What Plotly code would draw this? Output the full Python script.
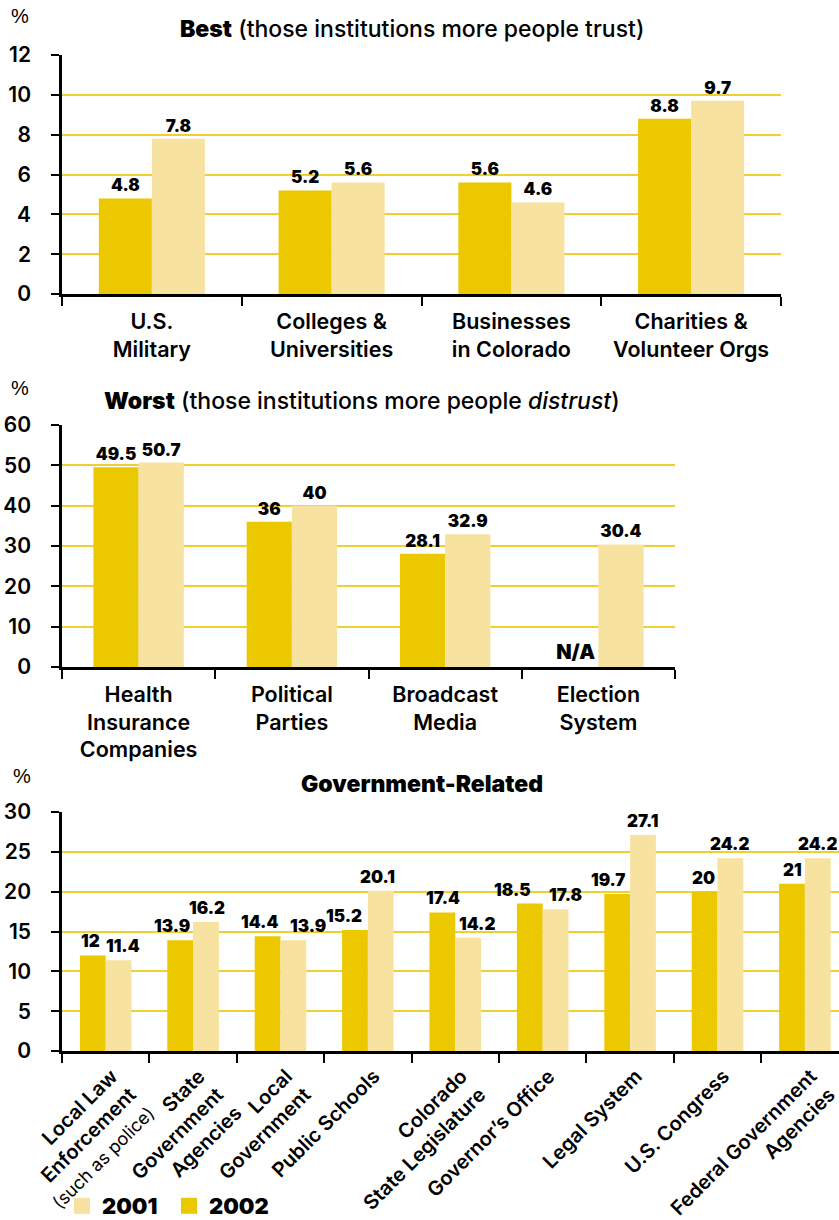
import plotly.graph_objects as go

# ---------------- data ----------------
best_cats = ["U.S.<br>Military", "Colleges &<br>Universities",
             "Businesses<br>in Colorado", "Charities &<br>Volunteer Orgs"]
best_2002 = [4.8, 5.2, 5.6, 8.8]
best_2001 = [7.8, 5.6, 4.6, 9.7]

worst_cats = ["Health<br>Insurance<br>Companies", "Political<br>Parties",
              "Broadcast<br>Media", "Election<br>System"]
worst_2002 = [49.5, 36, 28.1, None]   # None = N/A
worst_2001 = [50.7, 40, 32.9, 30.4]

gov_cats = ["Local Law<br>Enforcement<br><span style='font-weight:normal;font-size:18px'>(such as police)</span>",
            "State<br>Government<br>Agencies",
            "Local<br>Government",
            "Public Schools",
            "Colorado<br>State Legislature",
            "Governor’s Office",
            "Legal System",
            "U.S. Congress",
            "Federal Government<br>Agencies"]
gov_2002 = [12, 13.9, 14.4, 15.2, 17.4, 18.5, 19.7, 20, 21]
gov_2001 = [11.4, 16.2, 13.9, 20.1, 14.2, 17.8, 27.1, 24.2, 24.2]

years = ["2001", "2002"]

# label nudges (px) used in the original to keep value labels apart
gov_nudge_2002 = [-2, -8, -8, -11, 1, -17, -9, -1, 0]
gov_nudge_2001 = [4, 1, 15, -3, 9, 10, -1, -1, 0]

# ---------------- style ----------------
W, H = 839, 1220
DARK = "#ECC800"
LIGHT = "#F7E2A0"
GRID = "#F0D030"
BASE = "Liberation Sans, Arial, sans-serif"
MED = "Inter, Liberation Sans, Arial, sans-serif"
HEAVY = "Inter, Liberation Sans, Arial, sans-serif"
BARGAP = 0.41
VAL_SIZE = 17


def px_x(p):
    return p / W


def px_y(p):
    return 1 - p / H


def fmt(v):
    return f"{v:g}"


fig = go.Figure()

val_font = dict(family=HEAVY, size=VAL_SIZE, color="black", weight=900)

# Best / Worst panels: labels drawn by the bars themselves
for cats, v02, v01, xa, ya in [
    (best_cats, best_2002, best_2001, "x", "y"),
    (worst_cats, worst_2002, worst_2001, "x2", "y2"),
]:
    y02 = [0 if v is None else v for v in v02]
    t02 = ["N/A" if v is None else fmt(v) for v in v02]
    s02 = [20 if v is None else VAL_SIZE for v in v02]
    fig.add_trace(go.Bar(x=cats, y=y02, text=t02, marker_color=DARK,
                         marker_line_width=0, xaxis=xa, yaxis=ya,
                         textposition="outside", cliponaxis=False,
                         constraintext="none",
                         textfont=dict(val_font, size=s02),
                         showlegend=False, name="2002"))
    fig.add_trace(go.Bar(x=cats, y=v01, text=[fmt(v) for v in v01],
                         marker_color=LIGHT, marker_line_width=0,
                         xaxis=xa, yaxis=ya,
                         textposition="outside", cliponaxis=False,
                         constraintext="none", textfont=val_font,
                         showlegend=False, name="2001"))

# Government panel: bars, labels as annotations (nudged as in the original)
fig.add_trace(go.Bar(x=gov_cats, y=gov_2002, marker_color=DARK,
                     marker_line_width=0, xaxis="x3", yaxis="y3",
                     showlegend=False, name="2002"))
fig.add_trace(go.Bar(x=gov_cats, y=gov_2001, marker_color=LIGHT,
                     marker_line_width=0, xaxis="x3", yaxis="y3",
                     showlegend=False, name="2001"))

# legend entries
for name, col in zip(years, [LIGHT, DARK]):
    fig.add_trace(go.Scatter(x=[None], y=[None], mode="markers", name=name,
                             marker=dict(symbol="square", size=20, color=col),
                             xaxis="x3", yaxis="y3"))

# ---------------- axes ----------------
x_left = px_x(62)
x3_range = [-0.5, 8.39]
xaxis_common = dict(type="category", showline=True, linecolor="black",
                    linewidth=2.5, ticks="outside", tickson="boundaries",
                    ticklen=9, tickwidth=2, tickcolor="black", automargin=False,
                    showgrid=False, zeroline=False, fixedrange=True,
                    ticklabelstandoff=6,
                    tickfont=dict(family=MED, size=21.5, color="black", weight=600))
yaxis_common = dict(showline=True, linecolor="black", linewidth=2.5,
                    ticks="outside", ticklen=8, tickwidth=2, tickcolor="black",
                    showgrid=True, gridcolor=GRID, gridwidth=2, zeroline=False,
                    ticklabelstandoff=16, fixedrange=True, automargin=False,
                    tickfont=dict(family=MED, size=21, color="black", weight=600))

fig.update_layout(
    width=W, height=H,
    margin=dict(l=0, r=0, t=0, b=0, autoexpand=False),
    paper_bgcolor="white", plot_bgcolor="white",
    bargap=BARGAP, bargroupgap=0, barmode="group",
    xaxis=dict(xaxis_common, domain=[x_left, px_x(781)], anchor="y"),
    yaxis=dict(yaxis_common, domain=[px_y(294), px_y(55)], range=[0, 12],
               dtick=2, anchor="x"),
    xaxis2=dict(xaxis_common, domain=[x_left, px_x(675)], anchor="y2"),
    yaxis2=dict(yaxis_common, domain=[px_y(667), px_y(425)], range=[0, 60],
                dtick=10, anchor="x2"),
    xaxis3=dict(xaxis_common, domain=[x_left, 1.0], anchor="y3",
                range=x3_range, tickangle=-45, ticklabelshift=6,
                ticklabelstandoff=3,
                tickfont=dict(family=MED, size=20, color="black", weight=600)),
    yaxis3=dict(yaxis_common, domain=[px_y(1051), px_y(812)], range=[0, 30],
                dtick=5, anchor="x3"),
    showlegend=True,
    legend=dict(orientation="h", x=px_x(62), xanchor="left",
                y=px_y(1206), yanchor="middle", traceorder="normal",
                font=dict(family=HEAVY, size=22, color="black", weight=900),
                bgcolor="rgba(0,0,0,0)", entrywidth=62, itemclick=False),
)

# value labels for the government panel, placed through the x3/y3 axes
cat_px = (1.0 - x_left) * W / (x3_range[1] - x3_range[0])
half_bar = cat_px * (1 - BARGAP) / 2 / 2
for cat, v02, v01, n02, n01 in zip(gov_cats, gov_2002, gov_2001,
                                   gov_nudge_2002, gov_nudge_2001):
    for v, sgn, n in [(v02, -1, n02), (v01, 1, n01)]:
        fig.add_annotation(text=fmt(v), x=cat, y=v, xref="x3", yref="y3",
                           xanchor="center", yanchor="bottom", showarrow=False,
                           xshift=sgn * half_bar + n, yshift=2, font=val_font)

title_font = dict(family=MED, size=23, color="black", weight=500)
pct_font = dict(family=BASE, size=20, color="black")
annos = [
    ("%", 20, 16, pct_font),
    ("%", 20, 388, pct_font),
    ("%", 22, 776, pct_font),
    ("<span style='font-weight:900'>Best</span> (those institutions more people trust)", 412, 29, title_font),
    ("<span style='font-weight:900'>Worst</span> (those institutions more people <i>distrust</i>)", 362, 401, title_font),
    ("<span style='font-weight:900'>Government-Related</span>", 422, 784, title_font),
]
for text, xp, yp, f in annos:
    fig.add_annotation(text=text, x=px_x(xp), y=px_y(yp), xref="paper",
                       yref="paper", showarrow=False, xanchor="center",
                       yanchor="middle", font=f)

fig.write_html(
    "out.html", config={"displayModeBar": False},
    post_script=("document.body.style.margin='0';"
                 "document.body.style.overflow='hidden';"
                 "document.documentElement.style.overflow='hidden';"))
